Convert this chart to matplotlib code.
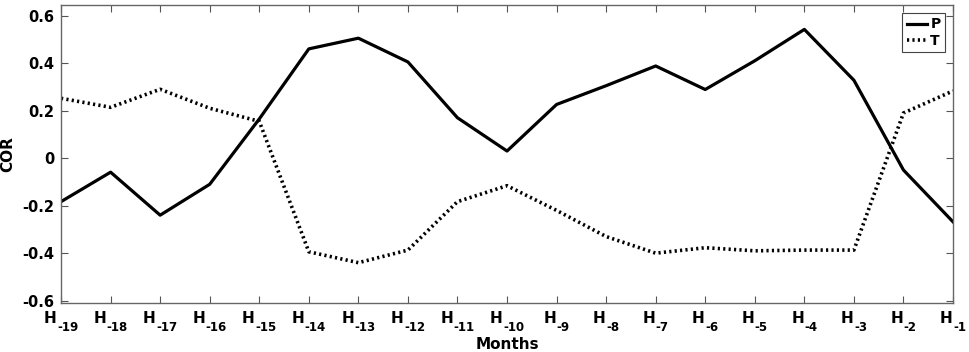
import matplotlib
matplotlib.use("Agg")
import matplotlib.pyplot as plt

plt.rcParams["font.family"] = ["DejaVu Sans"]
plt.rcParams["font.weight"] = "bold"

lags = list(range(19, 0, -1))
sub_labels = ["-%d" % k for k in lags]
p_cor = [-0.183, -0.059, -0.24, -0.11, 0.165, 0.46, 0.505, 0.405, 0.17, 0.03,
         0.226, 0.305, 0.388, 0.289, 0.41, 0.542, 0.328, -0.05, -0.268]
t_cor = [0.252, 0.214, 0.29, 0.21, 0.155, -0.394, -0.44, -0.387, -0.183, -0.116,
         -0.22, -0.33, -0.40, -0.377, -0.39, -0.387, -0.387, 0.19, 0.283]

x = list(range(1, len(lags) + 1))

fig = plt.figure(figsize=(9.69, 3.52), dpi=100)
ax = fig.add_axes([0.063, 0.139, 0.9205, 0.847])

ax.plot(x, p_cor, color="black", lw=2.3, ls="-", label="P")
ax.plot(x, t_cor, color="black", lw=2.6, ls=(0, (0.6, 0.9)), label="T")

ax.set_xlim(1, 19)
ax.set_ylim(-0.61, 0.645)
ax.set_xticks(x)
ax.set_xticklabels([])
ax.set_yticks([-0.6, -0.4, -0.2, 0, 0.2, 0.4, 0.6])
ax.set_yticklabels(["-0.6", "-0.4", "-0.2", "0", "0.2", "0.4", "0.6"], fontsize=10.5)
ax.tick_params(direction="in", top=True, right=True, length=5, color="#555555")
ax.tick_params(axis="y", pad=5)
for s in ax.spines.values():
    s.set_color("#666666")
    s.set_linewidth(1)

# "H" with a large, low subscript, centred as one label under each tick
trans = ax.get_xaxis_transform()
renderer = fig.canvas.get_renderer()
gap = 0.5  # pixels between H and its subscript
for xi, sub in zip(x, sub_labels):
    h = ax.annotate("H", (xi, 0), xycoords=trans, xytext=(0, -6), textcoords="offset points",
                    ha="left", va="top", fontsize=11, fontweight="bold", annotation_clip=False)
    s = ax.annotate(sub, (xi, 0), xycoords=trans, xytext=(0, -12), textcoords="offset points",
                    ha="left", va="top", fontsize=8.5, fontweight="bold", annotation_clip=False)
    wh = h.get_window_extent(renderer).width
    ws = s.get_window_extent(renderer).width
    left = -(wh + gap + ws) / 2
    h.xyann = (left * 72 / fig.dpi, -5.8)
    s.xyann = ((left + wh + gap) * 72 / fig.dpi, -12.8)

ax.set_xlabel("Months", fontsize=11, fontweight="bold", va="top")
ax.xaxis.set_label_coords(0.5, -0.115)
ax.set_ylabel("COR", fontsize=11, fontweight="bold", labelpad=5)

leg = ax.legend(loc="upper right", fontsize=10, handlelength=1.5, handletextpad=0.2,
                borderpad=0.3, labelspacing=0.2, fancybox=False, framealpha=1,
                borderaxespad=0.6)
leg.get_frame().set_edgecolor("#444444")
leg.get_frame().set_linewidth(0.8)

fig.savefig("out.png", dpi=100)
